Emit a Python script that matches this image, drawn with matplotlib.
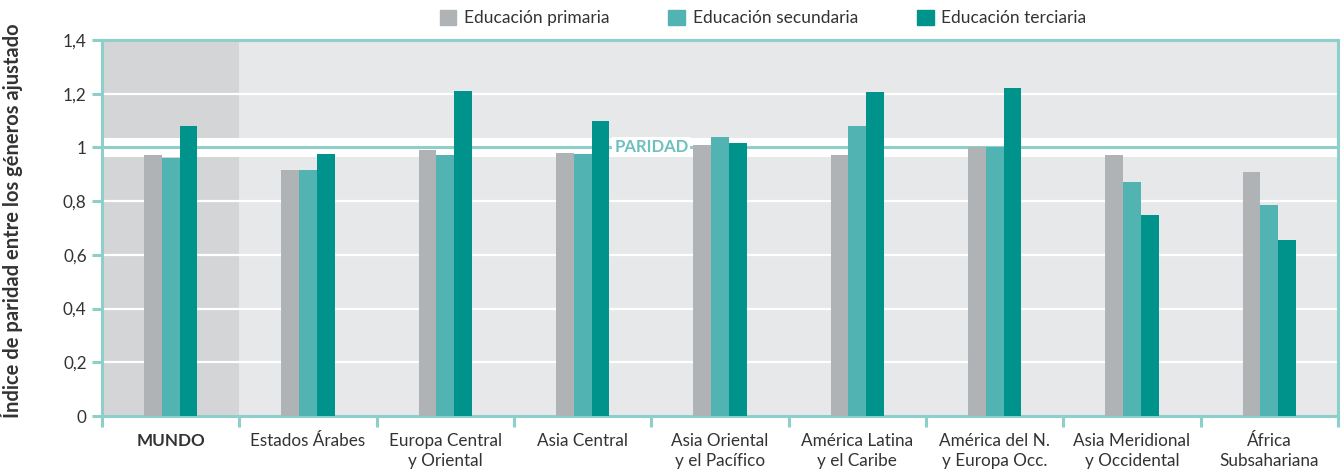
import numpy as np
import matplotlib
matplotlib.use("Agg")
import matplotlib.pyplot as plt
from matplotlib.patches import Patch
from matplotlib.ticker import FuncFormatter

regiones = ["MUNDO", "Estados Árabes", "Europa Central\ny Oriental", "Asia Central",
            "Asia Oriental\ny el Pacífico", "América Latina\ny el Caribe",
            "América del N.\ny Europa Occ.", "Asia Meridional\ny Occidental",
            "África\nSubsahariana"]
primaria = [0.97, 0.915, 0.99, 0.98, 1.01, 0.97, 1.00, 0.97, 0.91]
secundaria = [0.96, 0.915, 0.97, 0.975, 1.04, 1.08, 1.00, 0.87, 0.785]
terciaria = [1.08, 0.975, 1.21, 1.10, 1.015, 1.205, 1.22, 0.75, 0.655]
series = ["Educación primaria", "Educación secundaria", "Educación terciaria"]
y_ticks = [0, 0.2, 0.4, 0.6, 0.8, 1.0, 1.2, 1.4]

C_PRI = "#b0b3b6"
C_SEC = "#52b3b3"
C_TER = "#00938c"
C_EJE = "#8ecfcc"
C_TXT = "#333333"

plt.rcParams["font.family"] = ["Lato", "DejaVu Sans"]

fig = plt.figure(figsize=(13.41, 4.73), dpi=100)
ax = fig.add_axes([102 / 1341, 57 / 473, 1236 / 1341, 376 / 473])

x = np.arange(len(regiones))
ancho = 0.13

ax.set_xlim(-0.5, len(regiones) - 0.5)
ax.set_ylim(0, 1.4)
ax.set_facecolor("#e7e8ea")

# fondo mas oscuro para el total mundial
ax.axvspan(-0.5, 0.5, color="#d4d5d7", zorder=0, lw=0)

# lineas de cuadricula blancas
for v in [0.2, 0.4, 0.6, 0.8, 1.2]:
    ax.axhline(v, color="white", lw=1.6, zorder=1)

# banda de paridad
ax.axhspan(0.965, 1.035, color="white", zorder=1, lw=0)
ax.axhline(1.0, color=C_EJE, lw=2.2, zorder=2)
ax.text(3.5, 1.0, "PARIDAD", color="#6cc0bd", fontsize=12, fontweight="bold",
        ha="center", va="center", zorder=2,
        bbox=dict(facecolor="white", edgecolor="none", pad=1.5))

ax.bar(x - ancho, primaria, ancho, color=C_PRI, zorder=3)
ax.bar(x, secundaria, ancho, color=C_SEC, zorder=3)
ax.bar(x + ancho, terciaria, ancho, color=C_TER, zorder=3)

for lado in ["left", "right", "top", "bottom"]:
    ax.spines[lado].set_color(C_EJE)
    ax.spines[lado].set_linewidth(2.2)

ax.set_yticks(y_ticks)
ax.yaxis.set_major_formatter(FuncFormatter(
    lambda v, p: "%d" % v if abs(v - round(v)) < 1e-9 else ("%.1f" % v).replace(".", ",")))
ax.tick_params(axis="y", length=7, width=2.2, color=C_EJE, labelsize=12.3,
               labelcolor=C_TXT, pad=4)

ax.set_xticks(x)
ax.set_xticklabels(regiones)
ax.set_xticks(np.arange(-0.5, len(regiones), 1.0), minor=True)
ax.tick_params(axis="x", which="major", length=0, labelsize=12.3, labelcolor=C_TXT, pad=12)
ax.tick_params(axis="x", which="minor", length=8, width=2.2, color=C_EJE)
for etiqueta in ax.get_xticklabels():
    etiqueta.set_linespacing(1.35)
ax.get_xticklabels()[0].set_fontweight("bold")

ax.set_ylabel("Índice de paridad entre los géneros ajustado", fontsize=14.5,
              fontweight="bold", color=C_TXT)
ax.yaxis.set_label_coords(-0.064, 0.52)

handles = [Patch(color=c) for c in [C_PRI, C_SEC, C_TER]]
fig.legend(handles, series, loc="upper center", bbox_to_anchor=(0.569, 1.012), ncol=3,
           frameon=False, fontsize=12.5, handlelength=0.95, handleheight=0.95,
           handletextpad=0.45, columnspacing=3.4, labelcolor=C_TXT)

fig.savefig("out.png", dpi=100)
